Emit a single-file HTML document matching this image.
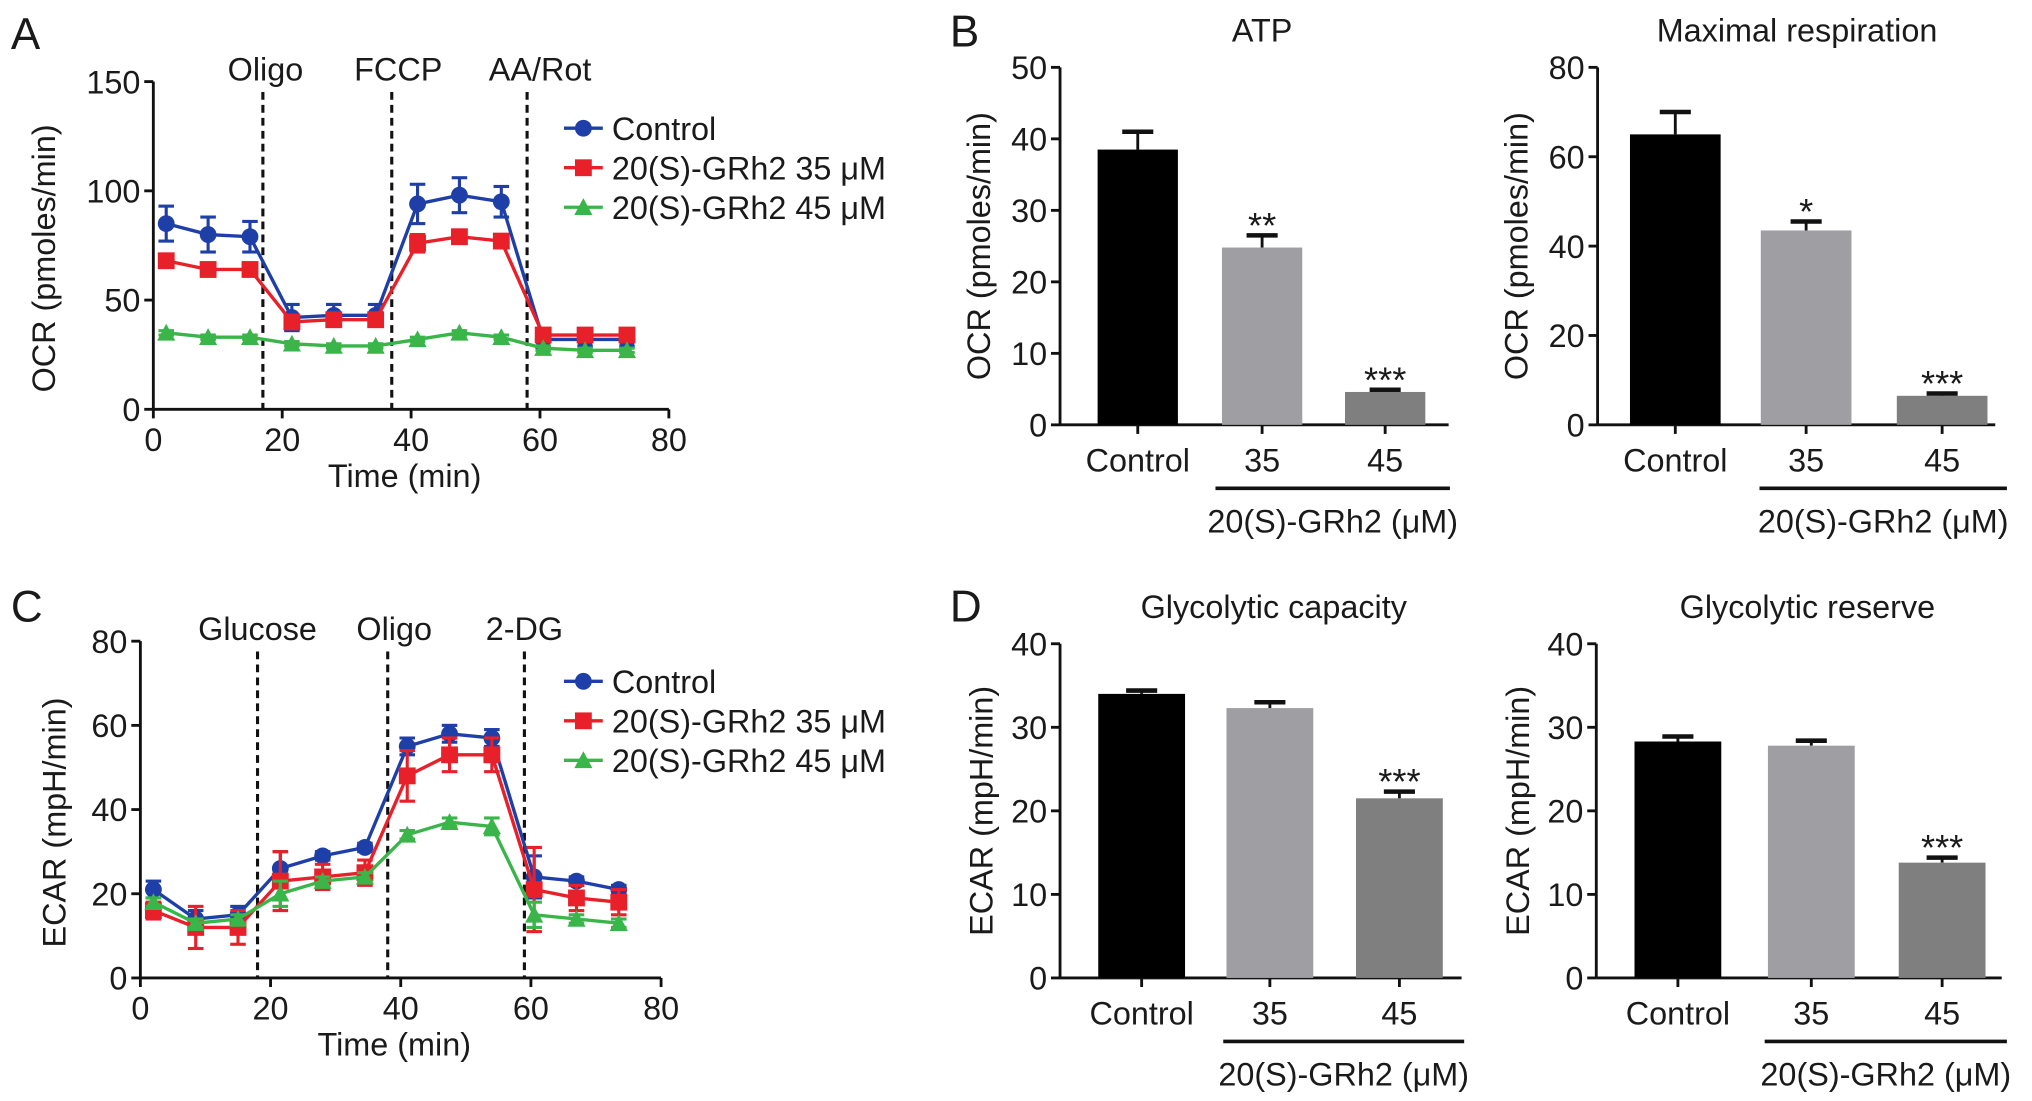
<!DOCTYPE html>
<html><head><meta charset="utf-8"><style>
html,body{margin:0;padding:0;background:#fff}
svg{display:block}
text{font-family:"Liberation Sans",sans-serif;fill:#1a1a1a}
</style></head><body>
<svg id="fig" width="2032" height="1101" viewBox="0 0 1568 850" xmlns="http://www.w3.org/2000/svg"></svg>
<script>
// ---- Line chart data ----
const timePoints = [2, 8.5, 15, 21.5, 28, 34.5, 41, 47.5, 54, 60.5, 67, 73.5];
const ocrControl = [85, 80, 79, 42, 43, 43, 94, 98, 95, 32, 32, 32];
const ocrControlErr = [8, 8, 7, 6, 5, 5, 9, 8, 7, 4, 3, 3];
const ocr35 = [68, 64, 64, 40, 41, 41, 76, 79, 77, 34, 34, 34];
const ocr35Err = [3, 2, 2, 3, 3, 3, 4, 3, 3, 3, 2, 2];
const ocr45 = [35, 33, 33, 30, 29, 29, 32, 35, 33, 28, 27, 27];
const ocr45Err = [1, 1, 1, 1, 1, 1, 1, 1, 1, 1, 1, 1];
const ocrYTicks = [0, 50, 100, 150];
const ocrInjections = [17, 37, 58];
const ocrInjectionLabels = ["Oligo", "FCCP", "AA/Rot"];

const ecarControl = [21, 14, 15, 26, 29, 31, 55, 58, 57, 24, 23, 21];
const ecarControlErr = [2, 2, 2, 4, 1, 1, 2, 2, 2, 5, 1, 1];
const ecar35 = [16, 12, 12, 23, 24, 25, 48, 53, 53, 21, 19, 18];
const ecar35Err = [2, 5, 4, 7, 3, 3, 6, 4, 4, 10, 3, 3];
const ecar45 = [18, 13, 14, 20, 23, 24, 34, 37, 36, 15, 14, 13];
const ecar45Err = [1, 1, 1, 3, 1, 1, 1, 1, 2, 3, 1, 1];
const ecarYTicks = [0, 20, 40, 60, 80];
const ecarInjections = [18, 38, 59];
const ecarInjectionLabels = ["Glucose", "Oligo", "2-DG"];
const timeTicks = [0, 20, 40, 60, 80];
const legendLabels = ["Control", "20(S)-GRh2 35 \u03bcM", "20(S)-GRh2 45 \u03bcM"];

// ---- Bar chart data ----
const barCategories = ["Control", "35", "45"];
const atpValues = [38.5, 24.8, 4.6];
const atpErr = [2.5, 1.7, 0.3];
const atpStars = ["", "**", "***"];
const atpTicks = [0, 10, 20, 30, 40, 50];
const maxRespValues = [65, 43.5, 6.5];
const maxRespErr = [5, 2, 0.5];
const maxRespStars = ["", "*", "***"];
const maxRespTicks = [0, 20, 40, 60, 80];
const glyCapValues = [34, 32.3, 21.5];
const glyCapErr = [0.4, 0.7, 0.8];
const glyCapStars = ["", "", "***"];
const glyResValues = [28.3, 27.8, 13.8];
const glyResErr = [0.6, 0.6, 0.6];
const glyResStars = ["", "", "***"];
const ecarBarTicks = [0, 10, 20, 30, 40];

const NS = "http://www.w3.org/2000/svg";
const svg = document.getElementById("fig");
const FS = 25;
function mk(tag, attrs, parent, txt) {
  const e = document.createElementNS(NS, tag);
  for (const k in attrs) e.setAttribute(k, attrs[k]);
  if (txt !== undefined) e.textContent = txt;
  (parent || svg).appendChild(e);
  return e;
}
function grp(name, parent) {
  const g = mk("g", {}, parent);
  
  
  return g;
}
function label(parent, name, x, y, s, size, anchor, extra) {
  const t = mk("text", Object.assign({x: x, y: y, "font-size": size, "text-anchor": anchor || "middle"}, extra || {}), parent, s);
  
  
  return t;
}

const colors = ["#1f3fa8", "#e8202a", "#3ab54a"];

function marker(g, type, x, y, c) {
  let m;
  if (type === 0) m = mk("circle", {cx: x, cy: y, r: 6.5, fill: c}, g);
  else if (type === 1) m = mk("rect", {x: x - 6.5, y: y - 6.5, width: 13, height: 13, fill: c}, g);
  else m = mk("polygon", {points: `${x},${y-7} ${x-7},${y+6} ${x+7},${y+6}`, fill: c}, g);
  
  
}

function lineChart(cfg) {
  const g = grp(cfg.name);
  const X0 = cfg.x0, X1 = cfg.x1, Y0 = cfg.y0, Y1 = cfg.y1;
  const ymax = cfg.yTicks[cfg.yTicks.length - 1];
  const sx = v => X0 + (v / 80) * (X1 - X0);
  const sy = v => Y0 - (v / ymax) * (Y0 - Y1);
  const ax = grp("axes", g);
  mk("line", {x1: X0, y1: Y0, x2: X0, y2: Y1, stroke: "#111", "stroke-width": 2.2}, ax);
  mk("line", {x1: X0, y1: Y0, x2: X1, y2: Y0, stroke: "#111", "stroke-width": 2.2}, ax);
  cfg.yTicks.forEach(t => {
    mk("line", {x1: X0 - 7, y1: sy(t), x2: X0, y2: sy(t), stroke: "#111", "stroke-width": 2.2}, ax);
    label(ax, "y-tick-label", X0 - 10, sy(t) + 9, t, FS, "end");
  });
  timeTicks.forEach(t => {
    mk("line", {x1: sx(t), y1: Y0, x2: sx(t), y2: Y0 + 7, stroke: "#111", "stroke-width": 2.2}, ax);
    label(ax, "x-tick-label", sx(t), Y0 + 32, t, FS);
  });
  label(ax, "x-axis-title", (X0 + X1) / 2 - 5, Y0 + 60, "Time (min)", FS);
  label(ax, "y-axis-title", 0, 0, cfg.yTitle, FS, "middle", {transform: `translate(${cfg.yTitleX},${(Y0 + Y1) / 2 + 10}) rotate(-90)`});
  cfg.inj.forEach((t, i) => {
    const l = mk("line", {x1: sx(t), y1: Y1 + 8, x2: sx(t), y2: Y0, stroke: "#111", "stroke-width": 2.4, "stroke-dasharray": "6,4"}, g);
    
    
    label(g, "injection-label", sx(t) + (cfg.injOff[i] || 0), Y1 - 1, cfg.injLabels[i], FS);
  });
  cfg.series.forEach((s, si) => {
    const sg = grp("series-" + si, g);
    const c = colors[si];
    s.vals.forEach((v, i) => {
      const x = sx(timePoints[i]);
      mk("line", {x1: x, y1: sy(v - s.err[i]), x2: x, y2: sy(v + s.err[i]), stroke: c, "stroke-width": 2.4}, sg);
      mk("line", {x1: x - 6, y1: sy(v + s.err[i]), x2: x + 6, y2: sy(v + s.err[i]), stroke: c, "stroke-width": 2.4}, sg);
      mk("line", {x1: x - 6, y1: sy(v - s.err[i]), x2: x + 6, y2: sy(v - s.err[i]), stroke: c, "stroke-width": 2.4}, sg);
    });
    mk("polyline", {points: s.vals.map((v, i) => sx(timePoints[i]) + "," + sy(v)).join(" "), fill: "none", stroke: c, "stroke-width": 2.6}, sg);
    s.vals.forEach((v, i) => marker(sg, si, sx(timePoints[i]), sy(v), c));
  });
  const lg = grp("legend", g);
  legendLabels.forEach((t, i) => {
    const y = cfg.legY + i * 30.5;
    const e = grp("legend-entry", lg);
    mk("line", {x1: 435, y1: y, x2: 465, y2: y, stroke: colors[i], "stroke-width": 2.6}, e);
    marker(e, i, 450, y, colors[i]);
    label(e, "legend-label", 472, y + 9, t, FS, "start");
  });
}

lineChart({name: "panel-a-ocr-chart", x0: 118, x1: 516, y0: 316, y1: 63, yTicks: ocrYTicks, yTitle: "OCR (pmoles/min)", yTitleX: 42,
  inj: ocrInjections, injLabels: ocrInjectionLabels, injOff: [2, 5, 10], legY: 99,
  series: [{vals: ocrControl, err: ocrControlErr}, {vals: ocr35, err: ocr35Err}, {vals: ocr45, err: ocr45Err}]});
lineChart({name: "panel-c-ecar-chart", x0: 108, x1: 510, y0: 755, y1: 495, yTicks: ecarYTicks, yTitle: "ECAR (mpH/min)", yTitleX: 50,
  inj: ecarInjections, injLabels: ecarInjectionLabels, injOff: [0, 5, 0], legY: 526,
  series: [{vals: ecarControl, err: ecarControlErr}, {vals: ecar35, err: ecar35Err}, {vals: ecar45, err: ecar45Err}]});

const barColors = ["#000000", "#9e9ea3", "#7f7f7f"];
function barChart(cfg) {
  const g = grp(cfg.name);
  const X0 = cfg.x0, Y0 = cfg.y0, Y1 = cfg.y1;
  const ymax = cfg.ticks[cfg.ticks.length - 1];
  const sy = v => Y0 - (v / ymax) * (Y0 - Y1);
  const ax = grp("axes", g);
  mk("line", {x1: X0, y1: Y0, x2: X0, y2: Y1, stroke: "#111", "stroke-width": 2.2}, ax);
  mk("line", {x1: X0, y1: Y0, x2: cfg.xEnd, y2: Y0, stroke: "#111", "stroke-width": 2.2}, ax);
  cfg.ticks.forEach(t => {
    mk("line", {x1: X0 - 7, y1: sy(t), x2: X0, y2: sy(t), stroke: "#111", "stroke-width": 2.2}, ax);
    label(ax, "y-tick-label", X0 - 10, sy(t) + 9, t, FS, "end");
  });
  label(g, "chart-title", cfg.titleX, Y1 - 20, cfg.title, FS);
  label(ax, "y-axis-title", 0, 0, cfg.yTitle, FS, "middle", {transform: `translate(${cfg.yTitleX},${(Y0 + Y1) / 2}) rotate(-90)`});
  barCategories.forEach((c, i) => {
    const cx = cfg.centers[i];
    const bg = grp("bar-" + c.toLowerCase(), g);
    const v = cfg.vals[i], e = cfg.err[i];
    mk("line", {x1: cx, y1: sy(v), x2: cx, y2: sy(v + e), stroke: "#111", "stroke-width": 2.2}, bg);
    mk("line", {x1: cx - 12, y1: sy(v + e), x2: cx + 12, y2: sy(v + e), stroke: "#111", "stroke-width": 3.5}, bg);
    mk("rect", {x: cx - cfg.bw / 2, y: sy(v), width: cfg.bw, height: Y0 - sy(v), fill: barColors[i]}, bg);
    mk("line", {x1: cx, y1: Y0, x2: cx, y2: Y0 + 7, stroke: "#111", "stroke-width": 2.2}, ax);
    label(ax, "x-tick-label", cx, Y0 + 36, c, FS);
    if (cfg.stars[i]) label(bg, "significance-stars", cx, sy(v + e) + 2, cfg.stars[i], 28);
  });
  const ug = grp("treatment-bracket", g);
  mk("line", {x1: cfg.centers[1] - 36, y1: Y0 + 49, x2: cfg.centers[2] + 50, y2: Y0 + 49, stroke: "#111", "stroke-width": 2.8}, ug);
  label(ug, "treatment-label", (cfg.centers[1] + cfg.centers[2]) / 2 + 7, Y0 + 83, "20(S)-GRh2 (\u03bcM)", FS);
}

barChart({name: "atp-bar-chart", x0: 818, xEnd: 1118, y0: 328, y1: 52, ticks: atpTicks, vals: atpValues, err: atpErr, stars: atpStars,
  centers: [878, 974, 1069], bw: 62, title: "ATP", titleX: 974, yTitle: "OCR (pmoles/min)", yTitleX: 764});
barChart({name: "maximal-respiration-bar-chart", x0: 1233, xEnd: 1540, y0: 328, y1: 52, ticks: maxRespTicks, vals: maxRespValues, err: maxRespErr, stars: maxRespStars,
  centers: [1293, 1394, 1499], bw: 70, title: "Maximal respiration", titleX: 1387, yTitle: "OCR (pmoles/min)", yTitleX: 1179});
barChart({name: "glycolytic-capacity-bar-chart", x0: 818, xEnd: 1128, y0: 755, y1: 497, ticks: ecarBarTicks, vals: glyCapValues, err: glyCapErr, stars: glyCapStars,
  centers: [881, 980, 1080], bw: 67, title: "Glycolytic capacity", titleX: 983, yTitle: "ECAR (mpH/min)", yTitleX: 766});
barChart({name: "glycolytic-reserve-bar-chart", x0: 1232, xEnd: 1545, y0: 755, y1: 497, ticks: ecarBarTicks, vals: glyResValues, err: glyResErr, stars: glyResStars,
  centers: [1295, 1398, 1499], bw: 67, title: "Glycolytic reserve", titleX: 1395, yTitle: "ECAR (mpH/min)", yTitleX: 1180});

label(svg, "panel-label-a", 8, 38, "A", 34, "start");
label(svg, "panel-label-b", 733, 36, "B", 34, "start");
label(svg, "panel-label-c", 8, 480, "C", 34, "start");
label(svg, "panel-label-d", 733, 480, "D", 34, "start");
</script>
</body></html>
